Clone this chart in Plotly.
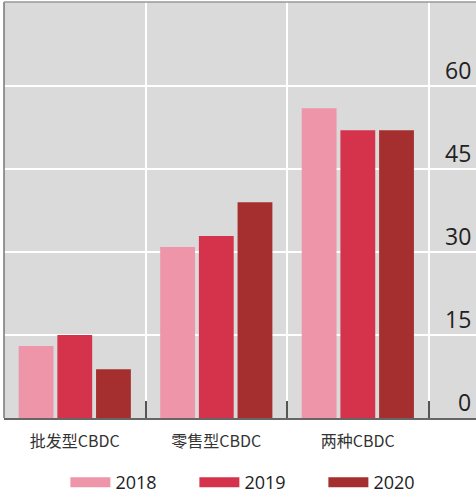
import plotly.graph_objects as go

# categories and survey values
categories = ["批发型CBDC", "零售型CBDC", "两种CBDC"]
years = ["2018", "2019", "2020"]
v2018 = [13, 30.9, 56]
v2019 = [15, 32.9, 52]
v2020 = [8.8, 39, 52]
y_ticks = [0, 15, 30, 45, 60]

colors = {"2018": "#EF95AA", "2019": "#D5324B", "2020": "#A52F2F"}
values = {"2018": v2018, "2019": v2019, "2020": v2020}

fig = go.Figure()
for yr in years:
    fig.add_bar(
        name=yr,
        x=categories,
        y=values[yr],
        marker=dict(color=colors[yr], line=dict(width=0)),
        showlegend=False,
        legendgroup=yr,
    )
    # legend-only entry so the swatch is a wide block like the original
    fig.add_scatter(
        name=yr,
        x=[None],
        y=[None],
        mode="lines",
        line=dict(color=colors[yr], width=14),
        legendgroup=yr,
    )

fig.update_layout(
    width=476,
    height=504,
    barmode="group",
    bargap=0.18,
    bargroupgap=0.1,
    plot_bgcolor="#DADADA",
    paper_bgcolor="white",
    margin=dict(l=4, r=0, t=2, b=86),
    font=dict(family="Open Sans, Noto Sans CJK SC", color="#222"),
    showlegend=True,
    legend=dict(
        orientation="h",
        x=0.54, xanchor="center",
        y=-0.155, yanchor="middle",
        font=dict(size=18, color="#222"),
        entrywidth=74,
        itemwidth=40,
        bgcolor="rgba(0,0,0,0)",
    ),
)

fig.update_xaxes(
    type="category",
    range=[-0.5, 2.835],
    tickson="boundaries",
    ticks="inside",
    ticklen=17,
    tickwidth=1.5,
    tickcolor="#555",
    showgrid=True,
    gridcolor="white",
    gridwidth=1.5,
    showline=True,
    linecolor="#666",
    linewidth=1.5,
    tickfont=dict(size=16, color="#333", family="Noto Sans CJK SC"),
    ticklabelstandoff=8,
)

fig.update_yaxes(
    range=[0, 75.2],
    tickvals=y_ticks,
    showticklabels=False,
    ticks="",
    showgrid=True,
    gridcolor="white",
    gridwidth=1.5,
    zeroline=False,
    showline=False,
)

# value labels sit just above each gridline at the right edge
for v in y_ticks:
    fig.add_annotation(
        text=str(v), xref="paper", x=1, yref="y", y=v,
        xanchor="right", yanchor="middle", xshift=-3, yshift=16,
        showarrow=False, font=dict(size=23, color="#222", family="Open Sans"),
    )

# thin border on the left and top of the plot area
fig.add_shape(type="line", xref="paper", yref="paper", x0=0, x1=0, y0=0, y1=1,
              line=dict(color="#777", width=1.5))
fig.add_shape(type="line", xref="paper", yref="paper", x0=0, x1=1, y0=1, y1=1,
              line=dict(color="#999", width=1.5))

fig.write_html("out.html", config={"displayModeBar": False},
               post_script="document.body.style.margin='0';")
